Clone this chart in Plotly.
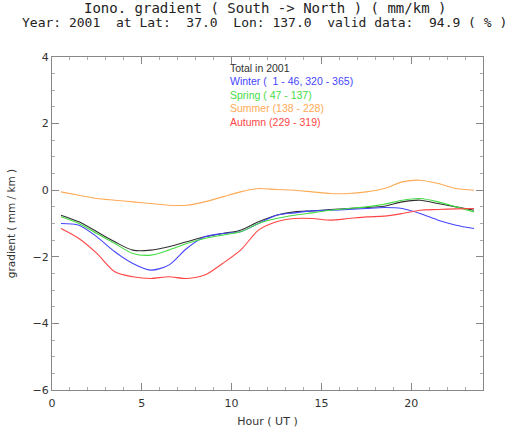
import plotly.graph_objects as go

hours = [0.5, 1.5, 2.5, 3.5, 4.5, 5.5, 6.5, 7.5, 8.5, 9.5, 10.5, 11.5,
         12.5, 13.5, 14.5, 15.5, 16.5, 17.5, 18.5, 19.5, 20.5, 21.5, 22.5, 23.5]

total = [-0.75, -0.95, -1.25, -1.55, -1.8, -1.8, -1.7, -1.55, -1.4, -1.3, -1.2, -0.95,
         -0.75, -0.65, -0.62, -0.58, -0.55, -0.52, -0.48, -0.35, -0.3, -0.4, -0.5, -0.6]
spring = [-0.8, -1.0, -1.3, -1.6, -1.9, -1.95, -1.8, -1.6, -1.45, -1.35, -1.25, -1.0,
          -0.85, -0.75, -0.68, -0.6, -0.55, -0.5, -0.42, -0.3, -0.25, -0.35, -0.5, -0.65]
winter = [-1.0, -1.05, -1.4, -1.85, -2.2, -2.4, -2.25, -1.75, -1.4, -1.3, -1.25, -1.0,
          -0.75, -0.68, -0.62, -0.6, -0.58, -0.55, -0.52, -0.55, -0.7, -0.9, -1.05, -1.15]
summer = [-0.05, -0.15, -0.25, -0.3, -0.35, -0.4, -0.45, -0.45, -0.35, -0.2, -0.05, 0.05,
          0.02, 0.0, -0.05, -0.1, -0.1, -0.05, 0.05, 0.25, 0.3, 0.2, 0.05, 0.0]
autumn = [-1.15, -1.45, -1.9, -2.45, -2.6, -2.65, -2.6, -2.65, -2.55, -2.2, -1.8, -1.2,
          -0.95, -0.85, -0.85, -0.9, -0.85, -0.8, -0.78, -0.7, -0.6, -0.58, -0.56, -0.55]

series_names = ["Total in 2001", "Winter (  1 - 46, 320 - 365)", "Spring ( 47 - 137)",
                "Summer (138 - 228)", "Autumn (229 - 319)"]
series_values = [total, winter, spring, summer, autumn]
colors = ["#303030", "#4646ff", "#46dc46", "#ffaa55", "#ff4646"]

x_ticks = [0, 5, 10, 15, 20]
y_ticks = [-6, -4, -2, 0, 2, 4]

title_lines = ["Iono. gradient ( South -> North ) ( mm/km )",
               "Year: 2001  at Lat:  37.0  Lon: 137.0  valid data:  94.9 ( % )"]

FONT = "Liberation Sans"
WIDE = "DejaVu Sans"
MONO = "DejaVu Sans Mono"

fig = go.Figure()
for name, vals, col in zip(series_names, series_values, colors):
    fig.add_trace(go.Scatter(x=hours, y=vals, mode="lines", name=name,
                             line=dict(color=col, width=1.1, shape="spline", smoothing=0.8),
                             showlegend=False))

for i, (name, col) in enumerate(zip(series_names, colors)):
    fig.add_annotation(x=0.408, y=0.967 - i * 0.0405, xref="paper", yref="paper",
                       text=name, showarrow=False, xanchor="left", yanchor="middle",
                       font=dict(family=FONT, size=10.5, color=col))

title_sizes = [14, 13]
for i, line in enumerate(title_lines):
    fig.add_annotation(x=0.494, y=1.147 - i * 0.042, xref="paper", yref="paper",
                       text=line, showarrow=False, xanchor="center", yanchor="middle",
                       borderpad=0,
                       font=dict(family=MONO, size=title_sizes[i], color="#222222"))

fig.update_layout(
    width=518, height=432,
    margin=dict(l=52, r=35, t=57, b=42),
    paper_bgcolor="white", plot_bgcolor="white",
    font=dict(family=WIDE, size=11, color="#333333"),
    xaxis=dict(range=[0, 24], tickvals=x_ticks, ticks="inside", ticklen=7,
               showgrid=False, zeroline=False, showline=True, linecolor="#888888",
               mirror="allticks", tickcolor="#888888", ticklabelstandoff=3,
               automargin=False,
               minor=dict(dtick=1, ticks="inside", ticklen=3, tickcolor="#aaaaaa"),
               title=dict(text="Hour ( UT )", standoff=8, font=dict(size=11))),
    yaxis=dict(range=[-6, 4], tickvals=y_ticks, ticks="inside", ticklen=7,
               showgrid=False, zeroline=False, showline=True, linecolor="#888888",
               mirror="allticks", tickcolor="#888888", automargin=False,
               minor=dict(dtick=0.5, ticks="inside", ticklen=3, tickcolor="#aaaaaa"),
               title=dict(text="gradient ( mm / km )", standoff=14, font=dict(size=10.5))),
)

fig.write_html("out.html", config={"displayModeBar": False},
               post_script="document.body.style.margin='0';")
